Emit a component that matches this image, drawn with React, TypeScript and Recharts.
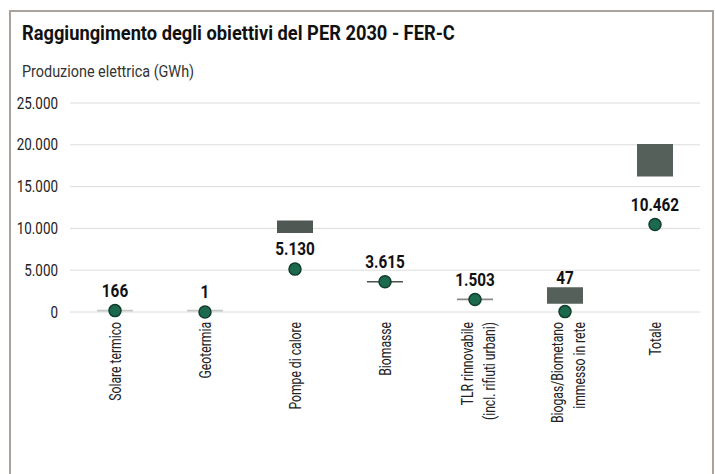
import { ComposedChart, Bar, Line, Cell, XAxis, YAxis, CartesianGrid, LabelList } from 'recharts';

const categories = [
  'Solare termico',
  'Geotermia',
  'Pompe di calore',
  'Biomasse',
  'TLR rinnovabile\n(incl. rifiuti urbani)',
  'Biogas/Biometano\nimmesso in rete',
  'Totale',
];
const achieved = [166, 1, 5130, 3615, 1503, 47, 10462];
const targetLow = [60, 60, 9450, 3540, 1420, 1000, 16200];
const targetHigh = [280, 280, 10950, 3720, 1600, 2950, 20100];
const rangeColors = ['#c4c8c6', '#c4c8c6', '#4f5853', '#4a524e', '#8f8587', '#56605b', '#56605b'];
const yTicks = [0, 5000, 10000, 15000, 20000, 25000];

const data = categories.map((name, i) => ({
  name,
  value: achieved[i],
  range: [targetLow[i], targetHigh[i]],
}));

const W = 715;
const H = 474;
const TOP = 103;
const BOTTOM = 312;
const Y_MAX = 25000;
const FONT = "Roboto, 'Noto Sans', sans-serif";

const fmt = (v: number) => String(v).replace(/\B(?=(\d{3})+(?!\d))/g, '.');
const toPx = (v: number) => BOTTOM - (v / Y_MAX) * (BOTTOM - TOP);

// the original uses a condensed face, so squeeze Roboto horizontally
const CategoryTick = (props: any) => {
  const { x, y, payload } = props;
  const lines = String(payload.value).split('\n');
  const fs = 16;
  const lh = 22;
  return (
    <g transform={`translate(${x},${y + 2}) rotate(-90) scale(0.76,1)`}>
      <text textAnchor="end" fontSize={fs} fontFamily={FONT} fill="#222">
        {lines.map((l, i) => (
          <tspan key={i} x={0} y={lines.length > 1 ? -8 + i * lh + fs * 0.35 : fs * 0.35}>
            {l}
          </tspan>
        ))}
      </text>
    </g>
  );
};

const ValueTick = (props: any) => {
  const { x, y, payload } = props;
  return (
    <g transform={`translate(${x},${y}) scale(0.84,1)`}>
      <text textAnchor="end" dy="0.35em" fontSize={16} fontFamily={FONT} fill="#222">
        {fmt(payload.value)}
      </text>
    </g>
  );
};

const ValueLabel = (props: any) => {
  const { x, y, value, index } = props;
  let cy = y - 20;
  const rTop = toPx(targetHigh[index]);
  const rBottom = toPx(targetLow[index]);
  if (cy + 8 > rTop && cy - 8 < rBottom) cy = rTop - 10;
  return (
    <g transform={`translate(${x},${cy}) scale(0.85,1)`}>
      <text textAnchor="middle" dy="0.35em" fontSize={18} fontWeight="bold" fontFamily={FONT} fill="#111">
        {fmt(value)}
      </text>
    </g>
  );
};

export default function App() {
  return (
    <div style={{ position: 'absolute', left: 0, top: 0, width: W, height: H, background: '#fff', overflow: 'hidden' }}>
      <div
        style={{
          position: 'absolute',
          left: 9,
          top: 10,
          width: 701,
          height: 470,
          borderTop: '2px solid #aaa29c',
          borderLeft: '2px solid #aaa29c',
          borderRight: '2px solid #aaa29c',
        }}
      />
      <div
        style={{
          position: 'absolute',
          left: 22,
          top: 21,
          fontFamily: FONT,
          fontWeight: 'bold',
          fontSize: 21,
          lineHeight: '24px',
          color: '#111',
          whiteSpace: 'nowrap',
          transform: 'scaleX(0.87)',
          transformOrigin: 'left center',
        }}
      >
        Raggiungimento degli obiettivi del PER 2030 - FER-C
      </div>
      <div
        style={{
          position: 'absolute',
          left: 22,
          top: 62,
          fontFamily: FONT,
          fontSize: 16,
          lineHeight: '20px',
          color: '#333',
          whiteSpace: 'nowrap',
          transform: 'scaleX(0.9)',
          transformOrigin: 'left center',
        }}
      >
        Produzione elettrica (GWh)
      </div>
      <div style={{ position: 'absolute', left: 0, top: 0 }}>
        <ComposedChart width={W} height={H} data={data} margin={{ top: TOP, right: 15, left: 0, bottom: 12 }}>
          <CartesianGrid vertical={false} stroke="#dcdcdc" />
          <XAxis
            dataKey="name"
            interval={0}
            tickLine={false}
            axisLine={false}
            height={150}
            tick={<CategoryTick />}
          />
          <YAxis
            width={70}
            domain={[0, Y_MAX]}
            ticks={yTicks}
            tickLine={false}
            axisLine={false}
            tickMargin={6}
            tick={<ValueTick />}
          />
          <Bar dataKey="range" barSize={36} isAnimationActive={false}>
            {data.map((_, i) => (
              <Cell key={i} fill={rangeColors[i]} />
            ))}
          </Bar>
          <Line
            dataKey="value"
            stroke="none"
            isAnimationActive={false}
            dot={{ r: 6, fill: '#1c6a4d', stroke: '#123d2d', strokeWidth: 1.5 }}
            activeDot={false}
          >
            <LabelList dataKey="value" content={<ValueLabel />} />
          </Line>
        </ComposedChart>
      </div>
    </div>
  );
}
